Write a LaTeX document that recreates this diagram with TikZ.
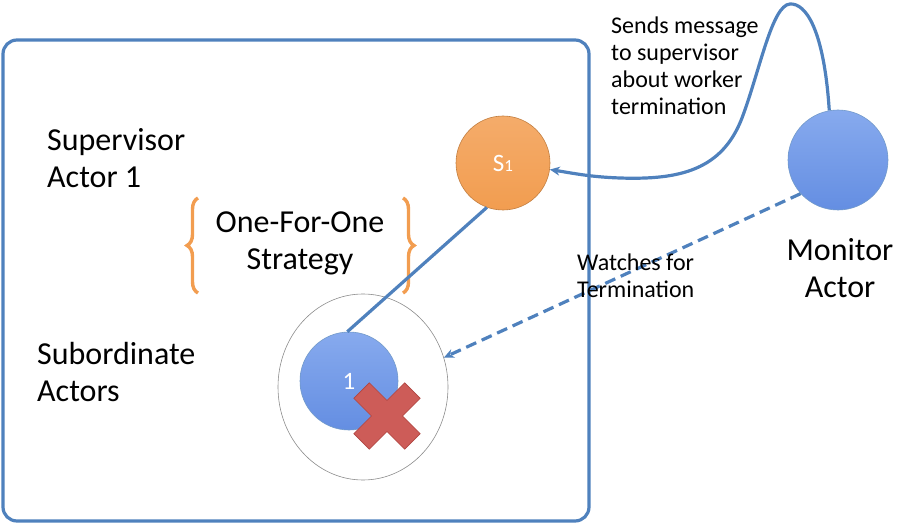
\documentclass[tikz,border=0pt]{standalone}
\usepackage{fontspec}
\setmainfont{Carlito}
\usetikzlibrary{arrows.meta,decorations.pathreplacing,shapes.geometric}

\definecolor{frameblue}{RGB}{79,129,189}
\definecolor{suporange}{RGB}{242,157,80}
\definecolor{actblue}{RGB}{100,142,226}
\definecolor{actlight}{RGB}{135,170,238}
\definecolor{xred}{RGB}{205,92,88}
\definecolor{xedge}{RGB}{175,70,66}

\begin{document}
\begin{tikzpicture}[
    x=1pt, y=-1pt,
    >={Stealth[length=10pt,width=9pt]},
    actor/.style={
        circle,
        minimum size=#1,
        inner sep=0pt,
        draw=frameblue!80,
        line width=0.6pt,
        top color=actlight,
        bottom color=actblue,
        text=white,
        font=\fontsize{25}{28}\selectfont
    },
    lbl/.style={
        align=left,
        inner sep=0pt,
        font=\fontsize{32}{37}\selectfont
    },
    note/.style={
        align=left,
        inner sep=0pt,
        font=\fontsize{24}{27}\selectfont
    },
    link/.style={line width=3.2pt, draw=frameblue},
    strat/.style={
        draw=suporange, line width=3.4pt,
        decorate, decoration={brace, amplitude=11pt}
    }
]
    \useasboundingbox (0,0) rectangle (924,524);

    % supervisor frame
    \draw[link, rounded corners=14pt] (3,40) rectangle (589,521);

    \node[lbl, anchor=west] (supname) at (47,158)
        {Supervisor\\Actor 1};
    \node[lbl, anchor=west] (subname) at (37,372)
        {Subordinate\\Actors};
    \node[lbl, align=center] (strategy) at (300,243)
        {One-For-One\\Strategy};

    \draw[strat] (198,293) -- (198,198);
    \draw[strat] (403,198) -- (403,293);

    % actors
    \node[ellipse, draw=black!45, line width=0.6pt, fill=white,
        minimum width=170pt, minimum height=186pt] (grp) at (363,387) {};
    \node[actor=98pt] (w1) at (349,381) {1};
    \node[actor=94pt, draw=suporange!80!black, top color=suporange!85!white,
        bottom color=suporange] (s1) at (503,163)
        {S{\fontsize{17}{20}\selectfont 1}};
    \node[actor=100pt] (mon) at (838,160) {};

    \node[lbl, align=center] (monname) at (840,268)
        {Monitor\\Actor};

    % failed worker
    \begin{scope}[rotate around={45:(387,416)}]
        \filldraw[fill=xred, draw=xedge, line width=0.6pt]
            (351,405) -- (376,405) -- (376,380) -- (398,380) -- (398,405)
            -- (423,405) -- (423,427) -- (398,427) -- (398,452) -- (376,452)
            -- (376,427) -- (351,427) -- cycle;
    \end{scope}

    \draw[link] (s1.250) -- (w1.92);

    \draw[link, ->] (mon.100) .. controls (824,30) and (806,3) .. (790,4)
        .. controls (772,5) and (760,70) .. (742,118)
        .. controls (722,170) and (680,180) .. (620,178)
        .. controls (590,177) and (572,173) .. (s1.-8);
    \draw[link, ->, dashed, dash pattern=on 11pt off 6pt] (mon.222) -- (grp.20);

    \node[note, anchor=west] (sendtxt) at (611,66)
        {Sends message\\to supervisor\\about worker\\termination};
    \node[note, anchor=west] (watchtxt) at (577,276)
        {Watches for\\Termination};
\end{tikzpicture}
\end{document}
